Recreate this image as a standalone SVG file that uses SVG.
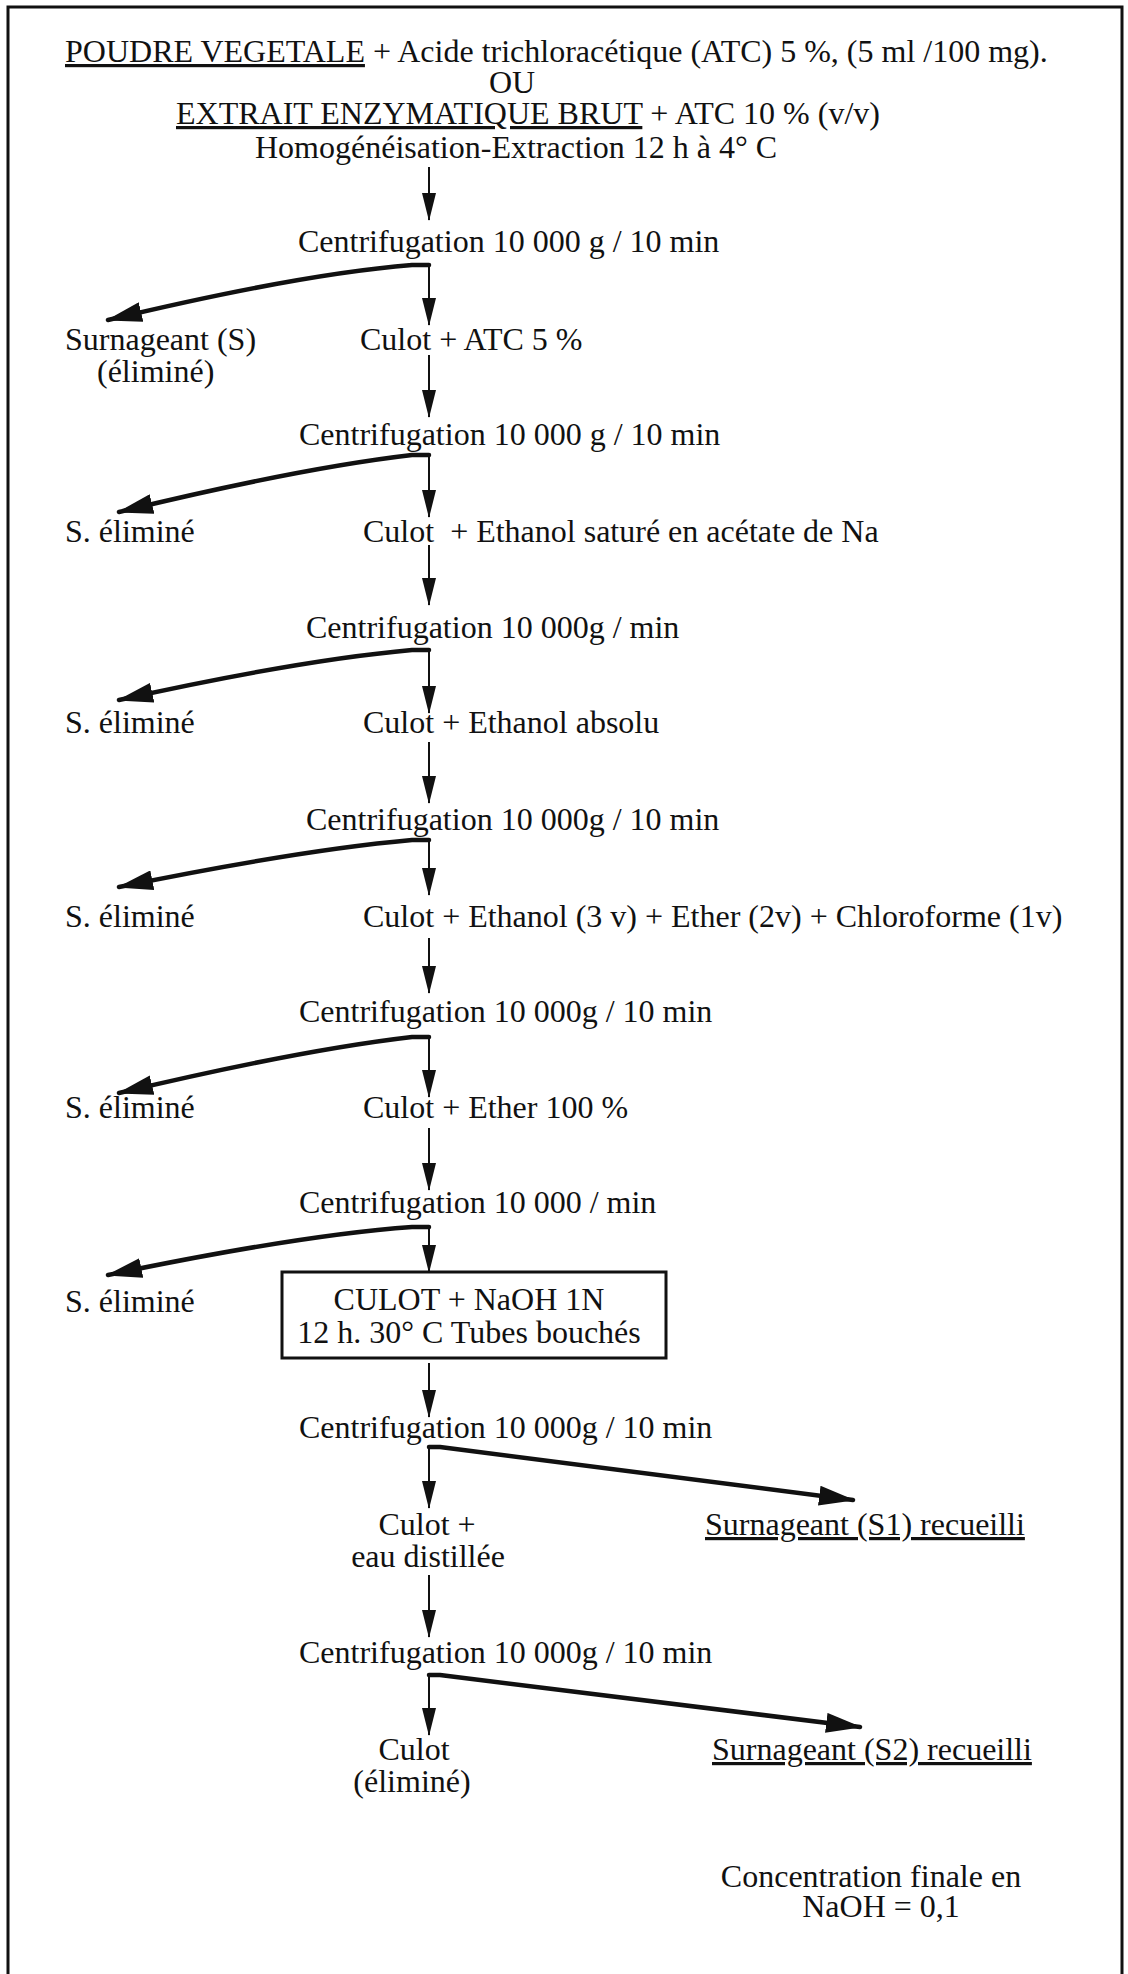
<svg xmlns="http://www.w3.org/2000/svg" width="1128" height="1974" viewBox="0 0 1128 1974">
<style>
text{font-family:"Liberation Serif","Times New Roman",serif;font-size:32px;fill:#111}
.u{text-decoration:underline}
.thin{stroke:#111;stroke-width:2;fill:none}
.thick{stroke:#111;stroke-width:4.5;fill:none;stroke-linecap:round;stroke-linejoin:round}
.box{fill:#fff;stroke:#111;stroke-width:3}
</style>
<defs>
<marker id="ah" viewBox="0 0 28 14" refX="27" refY="7" markerWidth="28" markerHeight="14" markerUnits="userSpaceOnUse" orient="auto">
<path d="M0,0 L28,7 L0,14 z" fill="#111"/>
</marker>
<marker id="ahb" viewBox="0 0 36 20" refX="34" refY="10" markerWidth="36" markerHeight="20" markerUnits="userSpaceOnUse" orient="auto">
<path d="M0,0 L36,10 L0,20 z" fill="#111"/>
</marker>
</defs>
<rect width="1128" height="1974" fill="#fff"/>
<path d="M8,1974 V7 H1122 V1974" fill="none" stroke="#111" stroke-width="3"/>

<g id="n-start">
<text x="65" y="62"><tspan class="u">POUDRE VEGETALE</tspan> + Acide trichloracétique (ATC) 5 %, (5 ml /100 mg).</text>
<text x="512" y="93" text-anchor="middle">OU</text>
<text x="176" y="124"><tspan class="u">EXTRAIT ENZYMATIQUE BRUT</tspan> + ATC 10 % (v/v)</text>
<text x="255" y="158">Homogénéisation-Extraction 12 h à 4° C</text>
</g>
<g id="n-c1"><text x="298" y="252">Centrifugation 10 000 g / 10 min</text></g>
<g id="n-s1"><text x="65" y="350">Surnageant (S)</text><text x="97" y="382">(éliminé)</text></g>
<g id="n-p1"><text x="360" y="350">Culot + ATC 5 %</text></g>
<g id="n-c2"><text x="299" y="445">Centrifugation 10 000 g / 10 min</text></g>
<g id="n-s2"><text x="65" y="542">S. éliminé</text></g>
<g id="n-p2"><text x="363" y="542" xml:space="preserve">Culot  + Ethanol saturé en acétate de Na</text></g>
<g id="n-c3"><text x="306" y="638">Centrifugation 10 000g / min</text></g>
<g id="n-s3"><text x="65" y="733">S. éliminé</text></g>
<g id="n-p3"><text x="363" y="733">Culot + Ethanol absolu</text></g>
<g id="n-c4"><text x="306" y="830">Centrifugation 10 000g / 10 min</text></g>
<g id="n-s4"><text x="65" y="927">S. éliminé</text></g>
<g id="n-p4"><text x="363" y="927">Culot + Ethanol (3 v) + Ether (2v) + Chloroforme (1v)</text></g>
<g id="n-c5"><text x="299" y="1022">Centrifugation 10 000g / 10 min</text></g>
<g id="n-s5"><text x="65" y="1118">S. éliminé</text></g>
<g id="n-p5"><text x="363" y="1118">Culot + Ether 100 %</text></g>
<g id="n-c6"><text x="299" y="1213">Centrifugation 10 000 / min</text></g>
<g id="n-s6"><text x="65" y="1312">S. éliminé</text></g>
<g id="n-box">
<rect class="box" x="282" y="1272" width="384" height="86"/>
<text x="469" y="1310" text-anchor="middle">CULOT + NaOH 1N</text>
<text x="469" y="1343" text-anchor="middle">12 h. 30° C Tubes bouchés</text>
</g>
<g id="n-c7"><text x="299" y="1438">Centrifugation 10 000g / 10 min</text></g>
<g id="n-p7"><text x="427" y="1535" text-anchor="middle">Culot +</text><text x="428" y="1567" text-anchor="middle">eau distillée</text></g>
<g id="n-r1"><text x="705" y="1535" class="u">Surnageant (S1) recueilli</text></g>
<g id="n-c8"><text x="299" y="1663">Centrifugation 10 000g / 10 min</text></g>
<g id="n-p8"><text x="414" y="1760" text-anchor="middle">Culot</text><text x="412" y="1792" text-anchor="middle">(éliminé)</text></g>
<g id="n-r2"><text x="712" y="1760" class="u">Surnageant (S2) recueilli</text></g>
<g id="n-note"><text x="871" y="1887" text-anchor="middle">Concentration finale en</text><text x="881" y="1917" text-anchor="middle">NaOH = 0,1</text></g>

<g id="connectors">
<g class="thin" marker-end="url(#ah)">
<path d="M429,167 V220"/>
<path d="M429,265 V325"/>
<path d="M429,355 V417"/>
<path d="M429,455 V517"/>
<path d="M429,545 V605"/>
<path d="M429,650 V713"/>
<path d="M429,742 V803"/>
<path d="M429,840 V895"/>
<path d="M429,938 V993"/>
<path d="M429,1037 V1097"/>
<path d="M429,1128 V1190"/>
<path d="M429,1226 V1272"/>
<path d="M429,1363 V1417"/>
<path d="M429,1447 V1508"/>
<path d="M429,1575 V1637"/>
<path d="M429,1675 V1735"/>
</g>
<g class="thick" marker-end="url(#ahb)">
<path d="M429,265 H412 Q300,274 108,320"/>
<path d="M429,455 H412 Q300,468 119,512"/>
<path d="M429,650 H412 Q300,660 119,700"/>
<path d="M429,840 H412 Q300,850 119,887"/>
<path d="M429,1037 H412 Q300,1050 119,1093"/>
<path d="M429,1227 H412 Q300,1235 108,1275"/>
<path d="M429,1447 H440 L853,1500"/>
<path d="M429,1675 H440 L860,1727"/>
</g>
</g>
</svg>
